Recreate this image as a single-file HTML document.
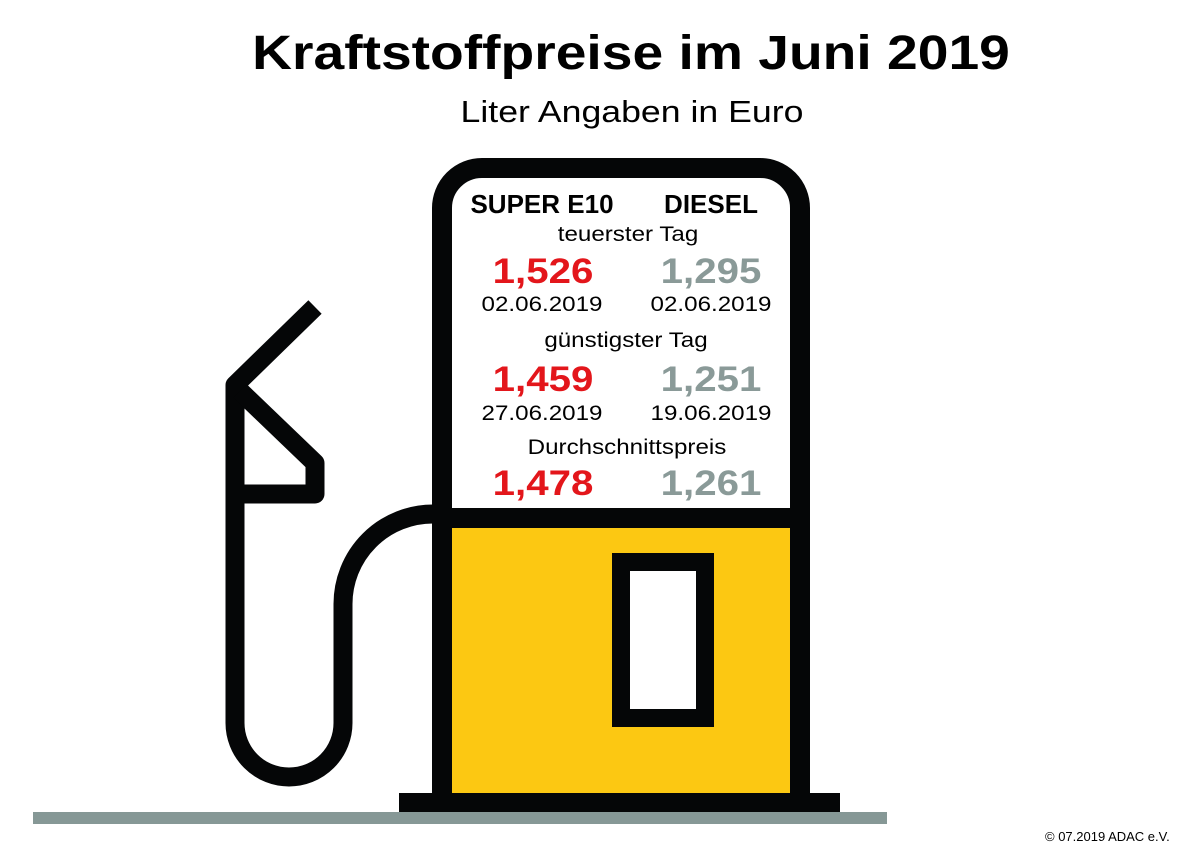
<!DOCTYPE html><html><head><style>
body{margin:0;width:1200px;height:858px;background:#fff;overflow:hidden;font-family:"Liberation Sans",sans-serif}
.t{position:absolute;white-space:nowrap;transform:translateX(-50%) scaleX(1.15)}
.h{position:absolute;white-space:nowrap;transform:translateX(-50%)}
</style></head><body>
<svg width="1200" height="858" style="position:absolute;left:0;top:0">
<rect x="33" y="812" width="854" height="12" fill="#869896"/>
<rect x="452" y="528" width="340" height="266" fill="#fcc812"/>
<path d="M442 794 V208 a40 40 0 0 1 40 -40 H760 a40 40 0 0 1 40 40 V794" fill="none" stroke="#050607" stroke-width="20"/>
<rect x="440" y="508" width="362" height="20" fill="#050607"/>
<rect x="399" y="793" width="441" height="19" fill="#050607"/>
<rect x="621" y="562" width="84" height="156" fill="#fff" stroke="#050607" stroke-width="18"/>
<g fill="none" stroke="#050607" stroke-width="19" stroke-linejoin="round">
<path d="M315 307 L235 385 V723 a54 54 0 0 0 108 0 V604 a90 90 0 0 1 90 -90"/>
<path d="M240 391 L315 463 V494 H235"/>
</g>
</svg>
<div class="t" style="left:631px;top:26px;font-size:48px;font-weight:bold">Kraftstoffpreise im Juni 2019</div>
<div class="t" style="left:632px;top:94px;font-size:31px">Liter Angaben in Euro</div>
<div class="h" style="left:542px;top:189px;font-size:26px;font-weight:bold">SUPER E10</div>
<div class="h" style="left:711px;top:189px;font-size:26px;font-weight:bold">DIESEL</div>
<div class="t" style="left:628px;top:223px;font-size:21px">teuerster Tag</div>
<div class="t" style="left:543px;top:252px;font-size:35px;font-weight:bold;color:#e3161b">1,526</div>
<div class="t" style="left:711px;top:252px;font-size:35px;font-weight:bold;color:#8a9a98">1,295</div>
<div class="t" style="left:542px;top:293px;font-size:21px">02.06.2019</div>
<div class="t" style="left:711px;top:293px;font-size:21px">02.06.2019</div>
<div class="t" style="left:626px;top:329px;font-size:21px">günstigster Tag</div>
<div class="t" style="left:543px;top:360px;font-size:35px;font-weight:bold;color:#e3161b">1,459</div>
<div class="t" style="left:711px;top:360px;font-size:35px;font-weight:bold;color:#8a9a98">1,251</div>
<div class="t" style="left:542px;top:402px;font-size:21px">27.06.2019</div>
<div class="t" style="left:711px;top:402px;font-size:21px">19.06.2019</div>
<div class="t" style="left:627px;top:436px;font-size:21px">Durchschnittspreis</div>
<div class="t" style="left:543px;top:464px;font-size:35px;font-weight:bold;color:#e3161b">1,478</div>
<div class="t" style="left:711px;top:464px;font-size:35px;font-weight:bold;color:#8a9a98">1,261</div>
<div style="position:absolute;left:1045px;top:829px;font-size:13px;white-space:nowrap">© 07.2019 ADAC e.V.</div>
</body></html>
